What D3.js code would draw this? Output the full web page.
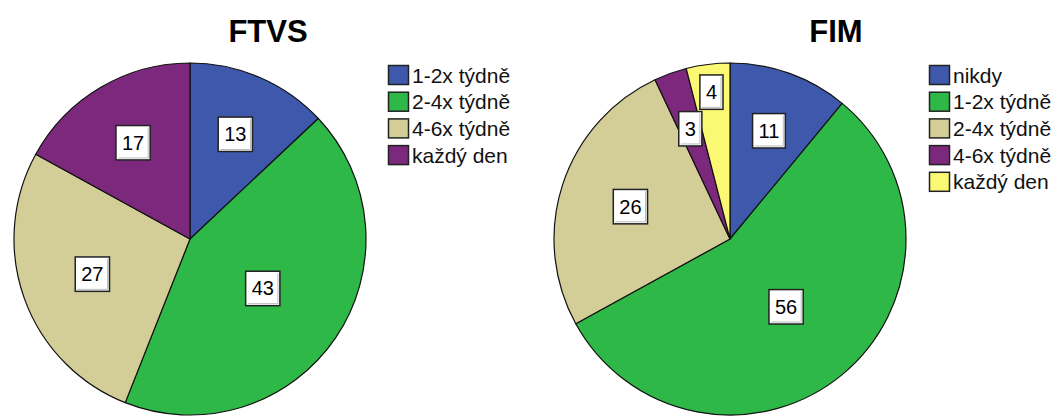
<!DOCTYPE html>
<html>
<head>
<meta charset="utf-8">
<script src="https://cdn.jsdelivr.net/npm/d3@7"></script>
<style>
  html, body { margin: 0; padding: 0; background: #fff; }
  svg { display: block; font-family: "Liberation Sans", Arial, sans-serif; }
</style>
</head>
<body>
<svg id="chart" width="1059" height="416"></svg>
<script>
// Frequency of activity per week, percent of respondents, by faculty
const ftvsCategories = ["1-2x týdně", "2-4x týdně", "4-6x týdně", "každý den"];
const ftvsValues     = [13, 43, 27, 17];
const ftvsColors     = ["#3e58ac", "#2eb848", "#d3ce97", "#7c287d"];

const fimCategories = ["nikdy", "1-2x týdně", "2-4x týdně", "4-6x týdně", "každý den"];
const fimValues     = [11, 56, 26, 3, 4];
const fimColors     = ["#3e58ac", "#2eb848", "#d3ce97", "#7c287d", "#fbf873"];

const svg = d3.select("#chart");

function drawPie(opts) {
  const { title, categories, values, colors, cx, cy, r, titleX, legendX } = opts;
  const g = svg.append("g");

  g.append("text")
    .attr("x", titleX).attr("y", 42)
    .attr("text-anchor", "middle")
    .attr("font-size", 31).attr("font-weight", "bold")
    .attr("fill", "#000")
    .text(title);

  const data = categories.map((c, i) => ({ cat: c, value: values[i], color: colors[i] }));
  const pie = d3.pie().value(d => d.value).sort(null);
  const arcs = pie(data);
  const arc = d3.arc().innerRadius(0).outerRadius(r);

  const pg = g.append("g").attr("transform", `translate(${cx},${cy})`);
  pg.selectAll("path.slice")
    .data(arcs).join("path")
    .attr("class", "slice")
    .attr("d", arc)
    .attr("fill", d => d.data.color)
    .attr("stroke", "#111")
    .attr("stroke-width", 1.2)
    .attr("stroke-linejoin", "round");

  // label positions: centroid of each sector, kept away from the centre
  const labels = arcs.map(a => {
    const span = a.endAngle - a.startAngle;
    const mid = (a.startAngle + a.endAngle) / 2;
    const cd = (4 * r * Math.sin(span / 2)) / (3 * span);
    const dist = Math.max(cd, 0.5 * r);
    return { a, mid, dist, text: String(a.data.value) };
  });

  const lg = pg.append("g");
  const fs = 20, padX = 6, padY = 7;
  labels.forEach(l => {
    const t = lg.append("text").attr("font-size", fs).text(l.text);
    l.w = t.node().getComputedTextLength() + 2 * padX;
    l.h = fs * 0.72 + 2 * padY + 6;
    l.node = t;
  });

  // push a label outward while it overlaps an earlier one
  const place = l => { l.x = l.dist * Math.sin(l.mid); l.y = -l.dist * Math.cos(l.mid); };
  labels.forEach((l, i) => {
    place(l);
    let guard = 0;
    const hits = () => labels.slice(0, i).some(o =>
      Math.abs(o.x - l.x) < (o.w + l.w) / 2 + 2 && Math.abs(o.y - l.y) < (o.h + l.h) / 2 + 2);
    while (hits() && guard++ < 40) { l.dist += 1; place(l); }
  });

  labels.forEach(l => {
    lg.insert("rect", "text")
      .attr("x", l.x - l.w / 2).attr("y", l.y - l.h / 2)
      .attr("width", l.w).attr("height", l.h)
      .attr("fill", "#fff").attr("stroke", "#222").attr("stroke-width", 1.5);
    lg.insert("path", "text")
      .attr("d", `M${l.x - l.w / 2 + 2},${l.y + l.h / 2 - 2}H${l.x + l.w / 2 - 2}V${l.y - l.h / 2 + 2}`)
      .attr("fill", "none").attr("stroke", "#bbb").attr("stroke-width", 1);
    l.node
      .attr("x", l.x).attr("y", l.y)
      .attr("text-anchor", "middle")
      .attr("dominant-baseline", "central")
      .attr("fill", "#000");
  });

  // legend
  const leg = g.append("g").attr("transform", `translate(${legendX},65)`);
  const row = leg.selectAll("g").data(data).join("g")
    .attr("transform", (d, i) => `translate(0,${i * 26.7})`);
  row.append("rect")
    .attr("x", 0.5).attr("y", 0.5).attr("width", 20).attr("height", 19)
    .attr("fill", d => d.color).attr("stroke", "#222").attr("stroke-width", 1.5);
  row.append("text")
    .attr("x", 24).attr("y", 10)
    .attr("dominant-baseline", "central")
    .attr("font-size", 21)
    .attr("fill", "#111")
    .text(d => d.cat);
}

drawPie({ title: "FTVS", categories: ftvsCategories, values: ftvsValues, colors: ftvsColors,
          cx: 190, cy: 239, r: 176, titleX: 268, legendX: 388 });
drawPie({ title: "FIM", categories: fimCategories, values: fimValues, colors: fimColors,
          cx: 730, cy: 239, r: 176, titleX: 836, legendX: 929 });
</script>
</body>
</html>
